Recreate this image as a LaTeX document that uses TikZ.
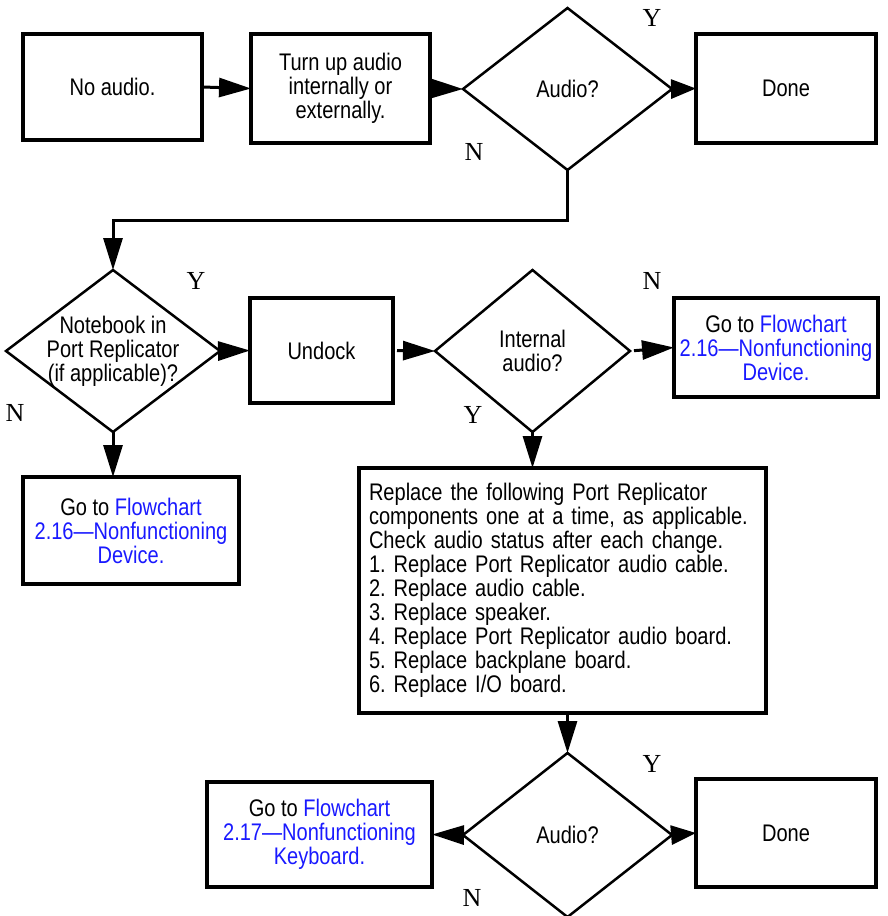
\documentclass[tikz,border=0pt]{standalone}
\usepackage{fontspec}
\setmainfont{Liberation Sans}[FakeStretch=0.835]
\newfontfamily\ynfont{Liberation Serif}
\usetikzlibrary{shapes.geometric,arrows.meta}
\definecolor{linkblue}{RGB}{25,25,255}
\frenchspacing
\tikzset{
  txt/.style={font=\fontsize{24pt}{24pt}\selectfont, align=center, inner sep=0pt},
  box/.style={draw, line width=3.5pt, outer sep=0pt, inner sep=0pt, txt},
  dia/.style={draw, diamond, line width=2.5pt, outer sep=0pt, inner sep=0pt},
  conn/.style={line width=3pt, -{Triangle[length=32pt,width=19pt]}},
  shortconn/.style={line width=3pt, -{Triangle[length=25pt,width=19pt]}},
  yn/.style={font=\ynfont\fontsize{26pt}{26pt}\selectfont, inner sep=0pt},
}
\begin{document}
\begin{tikzpicture}[x=1pt,y=-1pt]
\useasboundingbox (0,0) rectangle (887,916);
% row 1
\node[box, minimum width=179pt, minimum height=106pt] (b1) at (112.5,87) {No audio.};
\node[box, minimum width=179pt, minimum height=109pt] (b2) at (340.5,88.5) {Turn up audio\\internally or\\externally.};
\node[dia, minimum width=209pt, minimum height=162pt, label={[txt]center:Audio?}] (d1) at (567.5,89) {};
\node[box, minimum width=180pt, minimum height=109pt] (done1) at (786,88.5) {Done};
% row 2
\node[dia, minimum width=214pt, minimum height=162pt, label={[txt]center:Notebook in\\Port Replicator\\(if applicable)?}] (d2) at (113,351) {};
\node[box, minimum width=143pt, minimum height=105pt] (undock) at (321.5,350.5) {Undock};
\node[dia, minimum width=195pt, minimum height=162pt, label={[txt]center:Internal\\audio?}] (d3) at (532.5,351) {};
\node[box, minimum width=204pt, minimum height=99pt] (goto1) at (776,347.5) {Go to {\color{linkblue}Flowchart}\\{\color{linkblue}2.16---Nonfunctioning}\\{\color{linkblue}Device.}};
% row 3
\node[box, minimum width=216pt, minimum height=107pt] (goto2) at (131,530.5) {Go to {\color{linkblue}Flowchart}\\{\color{linkblue}2.16---Nonfunctioning}\\{\color{linkblue}Device.}};
\node[box, minimum width=407pt, minimum height=245pt, align=left, text width=387pt] (big) at (562.5,590.5) {Replace the following Port Replicator\\components one at a time, as applicable.\\Check audio status after each change.\\1. Replace Port Replicator audio cable.\\2. Replace audio cable.\\3. Replace speaker.\\4. Replace Port Replicator audio board.\\5. Replace backplane board.\\6. Replace I/O board.};
% row 4
\node[dia, minimum width=209pt, minimum height=164pt, label={[txt]center:Audio?}] (d4) at (567.5,835) {};
\node[box, minimum width=225pt, minimum height=105pt] (goto3) at (319.5,834.5) {Go to {\color{linkblue}Flowchart}\\{\color{linkblue}2.17---Nonfunctioning}\\{\color{linkblue}Keyboard.}};
\node[box, minimum width=180pt, minimum height=108pt] (done2) at (786,833) {Done};
% Y/N labels
\node[yn] (y1) at (652,18) {Y};
\node[yn] (n1) at (474,152) {N};
\node[yn] (y2) at (196,281) {Y};
\node[yn] (n2) at (15,413) {N};
\node[yn] (n3) at (652,281) {N};
\node[yn] (y3) at (473,415) {Y};
\node[yn] (y4) at (652,764) {Y};
\node[yn] (n4) at (472,898) {N};
% connectors
\draw[conn] (b1.east) -- (b2.west);
\draw[conn] (b2.east) -- (d1.west);
\draw[shortconn] (d1.east) -- (done1.west);
\draw[conn] (d1.south) -- ++(0,50) -| (d2.north);
\draw[conn] (d2.east) -- (undock.west);
\draw[conn, shorten <=4pt] (undock.east) -- (d3.west);
\draw[conn, shorten <=4pt] (d3.east) -- (goto1.west);
\draw[conn] (d2.south) -- (d2.south |- goto2.north);
\draw[conn] (d3.south) -- (d3.south |- big.north);
\draw[conn] (d4.north |- big.south) -- (d4.north);
\draw[conn] (d4.west) -- (goto3.east);
\draw[shortconn] (d4.east) -- (done2.west);
\end{tikzpicture}
\end{document}
